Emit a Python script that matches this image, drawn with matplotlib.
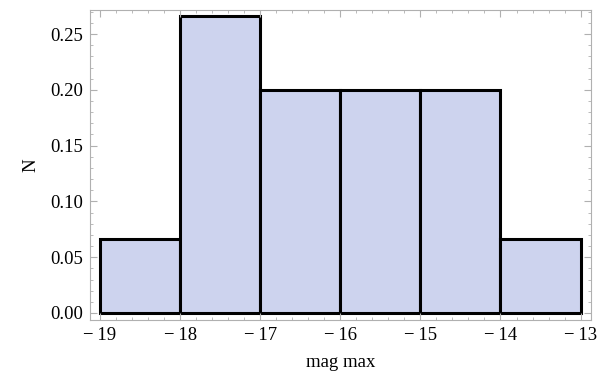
import numpy as np
import matplotlib.pyplot as plt
from matplotlib.ticker import MultipleLocator, FormatStrFormatter

# histogram bins and normalised counts
bin_edges = [-19, -18, -17, -16, -15, -14, -13]
freqs = [1 / 15, 4 / 15, 3 / 15, 3 / 15, 3 / 15, 1 / 15]

plt.rcParams['font.family'] = ['Liberation Serif', 'DejaVu Serif']
plt.rcParams['font.size'] = 13.5

fig = plt.figure(figsize=(6.14, 3.74), dpi=100)
ax = fig.add_axes([90 / 614, 1 - 320 / 374, 501 / 614, 310 / 374])

lefts = np.array(bin_edges[:-1])
widths = np.diff(bin_edges)
ax.bar(lefts, freqs, width=widths, align='edge',
       color='#cdd3ee', edgecolor='black', linewidth=2.2)

ax.set_xlim(-19.125, -12.87)
ax.set_ylim(-0.0063, 0.2716)

ax.xaxis.set_major_locator(MultipleLocator(1))
ax.xaxis.set_minor_locator(MultipleLocator(0.2))
ax.yaxis.set_major_locator(MultipleLocator(0.05))
ax.yaxis.set_minor_locator(MultipleLocator(0.01))
ax.yaxis.set_major_formatter(FormatStrFormatter('%.2f'))
ax.xaxis.set_major_formatter(
    plt.FuncFormatter(lambda v, p: '\u2212\u2009%d' % abs(round(v))))

grey = '#b0b0b0'
for s in ax.spines.values():
    s.set_color(grey)
    s.set_linewidth(0.8)
ax.tick_params(which='both', direction='in', top=True, right=True,
               color=grey, labelcolor='black')
ax.tick_params(which='major', length=5, width=0.8)
ax.tick_params(which='minor', length=2.5, width=0.6)
ax.tick_params(axis='x', pad=5)
ax.tick_params(axis='y', pad=5)

ax.set_xlabel('mag max', labelpad=7)
ax.set_ylabel('N', labelpad=8)

fig.savefig('out.png', dpi=100)
